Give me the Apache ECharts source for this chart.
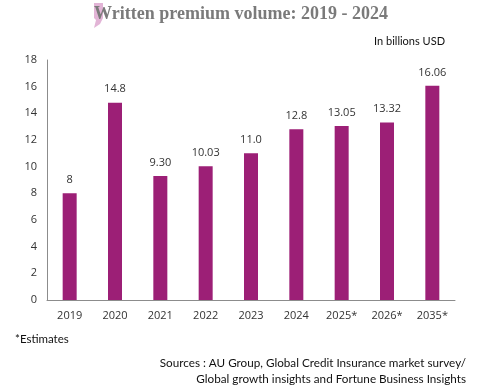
<!DOCTYPE html>
<html><head><meta charset="utf-8">
<script src="https://cdn.jsdelivr.net/npm/echarts@6/dist/echarts.min.js"></script>
<style>html,body{margin:0;padding:0;background:#fff}#c{width:486px;height:385px}</style>
</head><body><div id="c"></div>
<script>
const categories = ["2019","2020","2021","2022","2023","2024","2025*","2026*","2035*"];
const values = [8, 14.8, 9.30, 10.03, 11.0, 12.8, 13.05, 13.32, 16.06];
const valueLabels = ["8","14.8","9.30","10.03","11.0","12.8","13.05","13.32","16.06"];
const yTicks = [0,2,4,6,8,10,12,14,16,18];

const chart = echarts.init(document.getElementById('c'));
chart.setOption({
  animation:false,
  backgroundColor:'#fff',
  grid:{left:47,right:31,top:60,bottom:85},
  graphic:[
    {type:'polygon',shape:{points:[[94,3],[103,3],[103,18],[100,24],[94,28],[96,20],[94,18]]},style:{fill:'#e2b4d6'},z:1},
    {type:'text',x:241,y:5,style:{text:'Written premium volume: 2019 - 2024',font:'bold 18px "Liberation Serif"',fill:'#7a7a7a',align:'center'},z:2},
    {type:'text',right:41,top:36,style:{text:'In billions USD',font:'11px "Lato"',fill:'#111'}},
    {type:'text',left:15,top:333,style:{text:'*Estimates',font:'11.5px "Lato"',fill:'#111'}},
    {type:'text',right:20,top:357,style:{text:'Sources : AU Group, Global Credit Insurance market survey/',font:'11.7px "Lato"',fill:'#111',align:'right'}},
    {type:'text',right:20,top:373,style:{text:'Global growth insights and Fortune Business Insights',font:'11.7px "Lato"',fill:'#111',align:'right'}}
  ],
  xAxis:{type:'category',data:categories,
    axisLine:{lineStyle:{color:'#8c8c8c',width:1}},axisTick:{show:false},
    axisLabel:{color:'#333',fontSize:11,fontFamily:'"Open Sans"',margin:10}},
  yAxis:{type:'value',min:0,max:18,interval:2,
    axisLine:{show:true,lineStyle:{color:'#8c8c8c',width:1}},axisTick:{show:false},splitLine:{show:false},
    axisLabel:{color:'#333',fontSize:11,fontFamily:'"Open Sans"',margin:10,
      formatter:v=>yTicks.includes(v)?String(v):''}},
  series:[{type:'bar',data:values,barWidth:14,itemStyle:{color:'#9c1f76'},
    label:{show:true,position:'top',distance:8,color:'#333',fontSize:11,fontFamily:'"Open Sans"',
      formatter:p=>valueLabels[p.dataIndex]}}]
});
</script></body></html>
